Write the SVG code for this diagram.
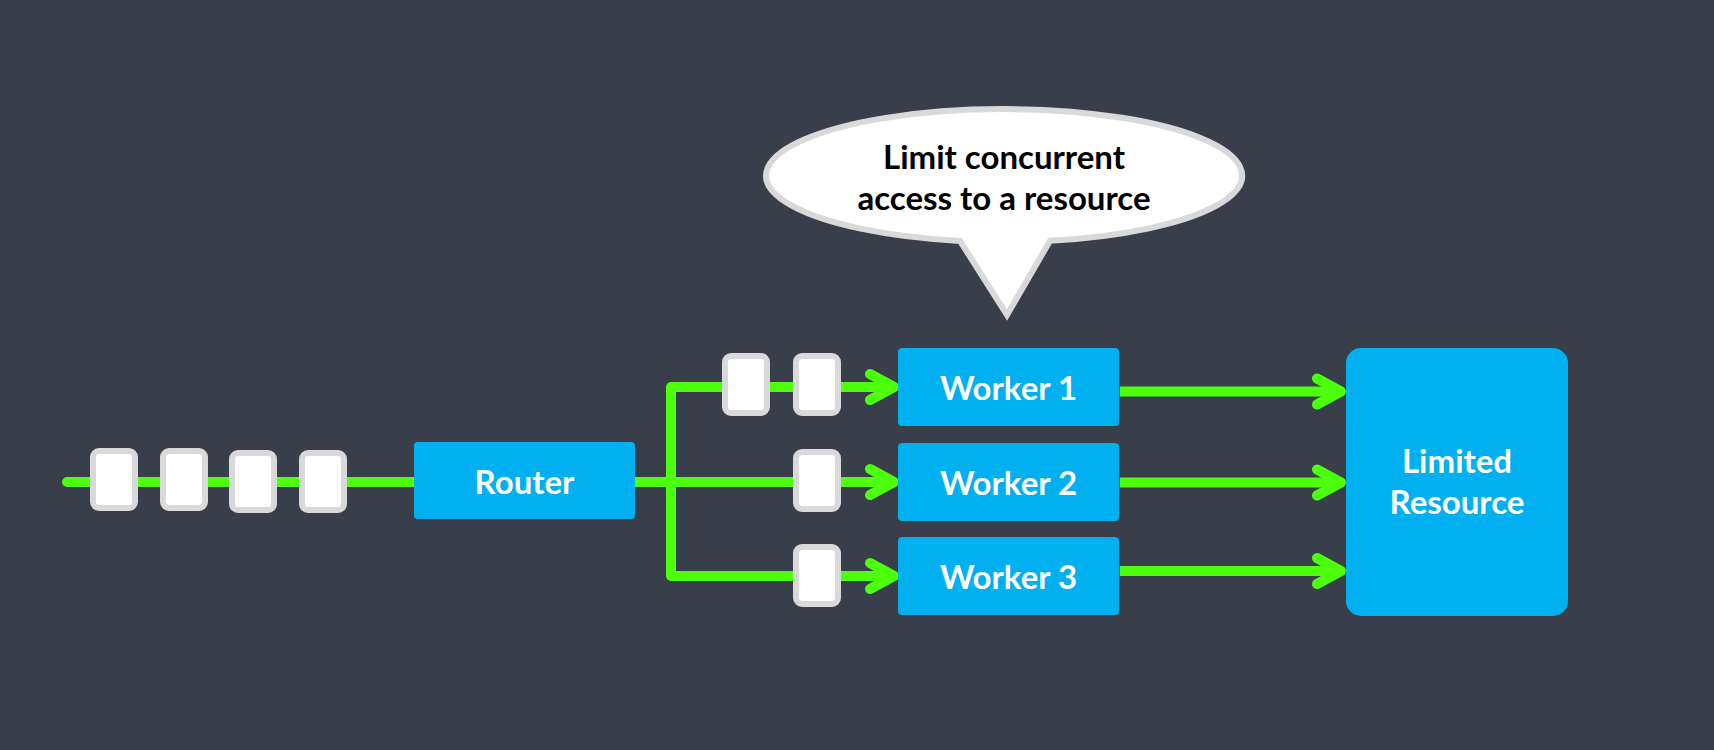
<svg xmlns="http://www.w3.org/2000/svg" width="1714" height="750" viewBox="0 0 1714 750">
  <style>
    .box { fill: #00b0f0; }
    .lbl { font-family: Lato, "Liberation Sans", sans-serif; font-weight: 700; font-size: 33px; fill: #ffffff; text-anchor: middle; }
    .call { font-family: Lato, "Liberation Sans", sans-serif; font-weight: 700; font-size: 33px; fill: #000000; text-anchor: middle; }
    .wire { fill: none; stroke: #4cff0a; stroke-width: 10; stroke-linejoin: round; }
    .tok { fill: #ffffff; stroke: #d9d9d9; stroke-width: 6; }
  </style>
  <defs>
    <marker id="chev" markerUnits="userSpaceOnUse" viewBox="-34 -22 44 44" markerWidth="44" markerHeight="44" refX="0" refY="0" orient="auto" overflow="visible">
      <path d="M-24,-13 L0,0 L-24,13" fill="none" stroke="#4cff0a" stroke-width="10" stroke-linecap="round" stroke-linejoin="round"/>
    </marker>
  </defs>
  <rect x="0" y="0" width="1714" height="750" fill="#383f4a"/>

  <g id="connectors">
    <path class="wire" d="M67,482 H414" stroke-linecap="round"/>
    <path class="wire" d="M635,482 H894" marker-end="url(#chev)"/>
    <path class="wire" d="M894,387 H671 V576 H894" marker-end="url(#chev)"/>
    <path class="wire" d="M671,387 H894" marker-end="url(#chev)"/>
    <path class="wire" d="M1120,391.5 H1341" marker-end="url(#chev)"/>
    <path class="wire" d="M1120,482.5 H1341" marker-end="url(#chev)"/>
    <path class="wire" d="M1120,571 H1341" marker-end="url(#chev)"/>
  </g>

  <g id="tokens">
    <rect class="tok" x="93" y="451" width="42" height="57" rx="6"/>
    <rect class="tok" x="163" y="451" width="42" height="57" rx="6"/>
    <rect class="tok" x="232" y="453" width="42" height="57" rx="6"/>
    <rect class="tok" x="302" y="453" width="42" height="57" rx="6"/>
    <rect class="tok" x="725" y="356" width="42" height="57" rx="6"/>
    <rect class="tok" x="796" y="356" width="42" height="57" rx="6"/>
    <rect class="tok" x="796" y="452" width="42" height="57" rx="6"/>
    <rect class="tok" x="796" y="547" width="42" height="57" rx="6"/>
  </g>

  <g id="router">
    <rect class="box" x="414" y="442" width="221" height="77" rx="4"/>
    <text class="lbl" x="524.5" y="494">Router</text>
  </g>
  <g id="worker1">
    <rect class="box" x="898" y="348" width="221" height="78" rx="4"/>
    <text class="lbl" x="1008.5" y="399.5">Worker 1</text>
  </g>
  <g id="worker2">
    <rect class="box" x="898" y="443" width="221" height="78" rx="4"/>
    <text class="lbl" x="1008.5" y="494.5">Worker 2</text>
  </g>
  <g id="worker3">
    <rect class="box" x="898" y="537" width="221" height="78" rx="4"/>
    <text class="lbl" x="1008.5" y="588.5">Worker 3</text>
  </g>
  <g id="limited-resource">
    <rect class="box" x="1346" y="348" width="222" height="268" rx="15"/>
    <text class="lbl" x="1457" y="472.5">Limited</text>
    <text class="lbl" x="1457" y="513.5">Resource</text>
  </g>

  <g id="callout">
    <path d="M960,240.9 A238,66.5 0 1 1 1050,240.8 L1007,315 Z" fill="#ffffff" stroke="#d9d9d9" stroke-width="6" stroke-linejoin="miter"/>
    <text class="call" x="1004" y="168.5">Limit concurrent</text>
    <text class="call" x="1004" y="210">access to a resource</text>
  </g>
</svg>
